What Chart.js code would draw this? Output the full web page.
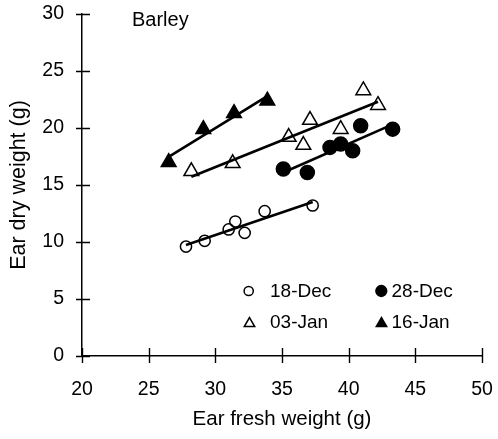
<!DOCTYPE html>
<html>
<head>
<meta charset="utf-8">
<script src="https://cdn.jsdelivr.net/npm/chart.js@4/dist/chart.umd.min.js"></script>
<style>
  html, body { margin: 0; padding: 0; background: #fff; }
  #wrap { width: 498px; height: 439px; }
</style>
</head>
<body>
<div id="wrap"><canvas id="c" width="498" height="439"></canvas></div>
<script>
// Ear fresh weight (g) vs ear dry weight (g), barley, by sampling date
const dec18Fresh = [27.8, 29.2, 31.0, 31.5, 32.2, 33.7, 37.3];
const dec18Dry   = [9.6, 10.1, 11.1, 11.8, 10.8, 12.7, 13.2];

const dec28Fresh = [35.1, 36.9, 38.6, 39.4, 40.3, 40.9, 43.3];
const dec28Dry   = [16.4, 16.1, 18.3, 18.6, 18.0, 20.2, 19.9];

const jan03Fresh = [28.2, 31.3, 35.5, 36.6, 37.1, 39.4, 41.1, 42.2];
const jan03Dry   = [16.2, 16.9, 19.2, 18.5, 20.7, 19.9, 23.3, 22.0];

const jan16Fresh = [26.5, 29.1, 31.4, 33.9];
const jan16Dry   = [17.0, 19.9, 21.3, 22.4];

const seriesLabels = ['18-Dec', '28-Dec', '03-Jan', '16-Jan'];
const xTicks = [20, 25, 30, 35, 40, 45, 50];
const yTicks = [0, 5, 10, 15, 20, 25, 30];

const FONT = 'Arial, "Liberation Sans", Helvetica, sans-serif';

function toPoints(xs, ys) {
  return xs.map((x, i) => ({ x: x, y: ys[i] }));
}

// least-squares line over the sampled fresh-weight range
function fitEnds(xs, ys) {
  const n = xs.length;
  const mx = xs.reduce((a, b) => a + b, 0) / n;
  const my = ys.reduce((a, b) => a + b, 0) / n;
  let sxy = 0, sxx = 0;
  for (let i = 0; i < n; i++) {
    sxy += (xs[i] - mx) * (ys[i] - my);
    sxx += (xs[i] - mx) * (xs[i] - mx);
  }
  const b = sxy / sxx;
  const x0 = Math.min(...xs), x1 = Math.max(...xs);
  return [{ x: x0, y: my + b * (x0 - mx) }, { x: x1, y: my + b * (x1 - mx) }];
}

const markerStyles = [
  { pointStyle: 'circle',   radius: 5.6, fill: 'rgba(0,0,0,0)', legendRadius: 4.6 },
  { pointStyle: 'circle',   radius: 7,   fill: '#000',          legendRadius: 5.4 },
  { pointStyle: 'triangle', radius: 8.5, fill: 'rgba(0,0,0,0)', legendRadius: 6 },
  { pointStyle: 'triangle', radius: 8.5, fill: '#000',          legendRadius: 6 }
];

const groups = [
  [dec18Fresh, dec18Dry],
  [dec28Fresh, dec28Dry],
  [jan03Fresh, jan03Dry],
  [jan16Fresh, jan16Dry]
];

const datasets = [];
groups.forEach((g, i) => {
  const st = markerStyles[i];
  datasets.push({
    type: 'scatter',
    label: seriesLabels[i],
    data: toPoints(g[0], g[1]),
    pointStyle: st.pointStyle,
    pointRadius: st.radius,
    pointHoverRadius: st.radius,
    pointBackgroundColor: st.fill,
    pointBorderColor: '#000',
    pointBorderWidth: 1.5,
    showLine: false,
    order: 0
  });
});
groups.forEach((g, i) => {
  datasets.push({
    type: 'line',
    label: seriesLabels[i] + ' fit',
    data: fitEnds(g[0], g[1]),
    borderColor: '#000',
    borderWidth: 2.6,
    pointRadius: 0,
    fill: false,
    order: 1
  });
});

// tick marks that cross the axis lines
const crossTicks = {
  id: 'crossTicks',
  afterDraw(chart) {
    const { ctx, chartArea: a, scales: { x, y } } = chart;
    ctx.save();
    ctx.strokeStyle = '#000';
    ctx.lineWidth = 1.4;
    ctx.beginPath();
    x.ticks.forEach(t => {
      const px = Math.round(x.getPixelForValue(t.value)) + 0.5;
      ctx.moveTo(px, a.bottom - 8);
      ctx.lineTo(px, a.bottom + 7);
    });
    y.ticks.forEach(t => {
      const py = Math.round(y.getPixelForValue(t.value)) + 0.5;
      ctx.moveTo(a.left - 6, py);
      ctx.lineTo(a.left + 8, py);
    });
    ctx.stroke();
    ctx.restore();
  }
};

function drawMarker(ctx, st, r, cx, cy) {
  const opts = {
    pointStyle: st.pointStyle, radius: r, rotation: 0, borderWidth: 1.5
  };
  ctx.save();
  ctx.fillStyle = st.fill;
  ctx.strokeStyle = '#000';
  ctx.lineWidth = 1.5;
  if (Chart.helpers && Chart.helpers.drawPoint) {
    Chart.helpers.drawPoint(ctx, opts, cx, cy);
  } else {
    ctx.beginPath();
    if (st.pointStyle === 'circle') {
      ctx.arc(cx, cy, r, 0, Math.PI * 2);
    } else {
      ctx.moveTo(cx, cy - r);
      ctx.lineTo(cx + r * Math.sin(2 * Math.PI / 3), cy + r / 2);
      ctx.lineTo(cx - r * Math.sin(2 * Math.PI / 3), cy + r / 2);
      ctx.closePath();
    }
    ctx.fill();
    ctx.stroke();
  }
  ctx.restore();
}

// in-plot legend in two columns, plus the crop caption
const plotNotes = {
  id: 'plotNotes',
  afterDraw(chart) {
    const { ctx } = chart;
    ctx.save();
    ctx.fillStyle = '#000';
    ctx.font = '20px ' + FONT;
    ctx.textAlign = 'left';
    ctx.textBaseline = 'alphabetic';
    ctx.fillText('Barley', 132, 26);

    const cells = [
      { mx: 248.7, my: 291,   tx: 270,   ty: 291.5 },
      { mx: 381.3, my: 291,   tx: 391.5, ty: 291.5 },
      { mx: 249.5, my: 323.5, tx: 270,   ty: 322.5 },
      { mx: 381.5, my: 323.5, tx: 391.5, ty: 322.5 }
    ];
    ctx.font = '19px ' + FONT;
    ctx.textBaseline = 'middle';
    cells.forEach((c, i) => {
      const st = markerStyles[i];
      drawMarker(ctx, st, st.legendRadius, c.mx, c.my);
      ctx.fillStyle = '#000';
      ctx.fillText(chart.data.datasets[i].label, c.tx, c.ty);
    });
    ctx.restore();
  }
};

function fixBox(size, key) {
  return s => {
    s[key] = size;
    s.paddingLeft = 0; s.paddingRight = 0; s.paddingTop = 0; s.paddingBottom = 0;
  };
}

new Chart(document.getElementById('c'), {
  data: { datasets: datasets },
  options: {
    responsive: false,
    animation: false,
    devicePixelRatio: 1,
    layout: { padding: { top: 14, right: 16, left: 0, bottom: 0 } },
    plugins: {
      legend: { display: false },
      tooltip: { enabled: false },
      title: { display: false }
    },
    scales: {
      x: {
        type: 'linear',
        min: xTicks[0],
        max: xTicks[xTicks.length - 1],
        afterBuildTicks: s => { s.ticks = xTicks.map(v => ({ value: v })); },
        afterFit: fixBox(83, 'height'),
        grid: { display: false, drawTicks: false, tickLength: 0 },
        border: { display: true, color: '#000', width: 1.5 },
        ticks: { color: '#000', font: { family: FONT, size: 19.5 }, padding: 22, maxRotation: 0 },
        title: {
          display: true,
          text: 'Ear fresh weight (g)',
          color: '#000',
          font: { family: FONT, size: 20.5 },
          padding: { top: 0, bottom: 7 }
        }
      },
      y: {
        type: 'linear',
        min: yTicks[0],
        max: yTicks[yTicks.length - 1],
        afterBuildTicks: s => { s.ticks = yTicks.map(v => ({ value: v })); },
        afterFit: fixBox(82, 'width'),
        grid: { display: false, drawTicks: false, tickLength: 0 },
        border: { display: true, color: '#000', width: 1.5 },
        ticks: { color: '#000', font: { family: FONT, size: 19.5 }, padding: 18 },
        title: {
          display: true,
          text: 'Ear dry weight (g)',
          color: '#000',
          font: { family: FONT, size: 21.5 },
          padding: { top: 6.6, bottom: 0 }
        }
      }
    }
  },
  plugins: [crossTicks, plotNotes]
});
</script>
</body>
</html>
